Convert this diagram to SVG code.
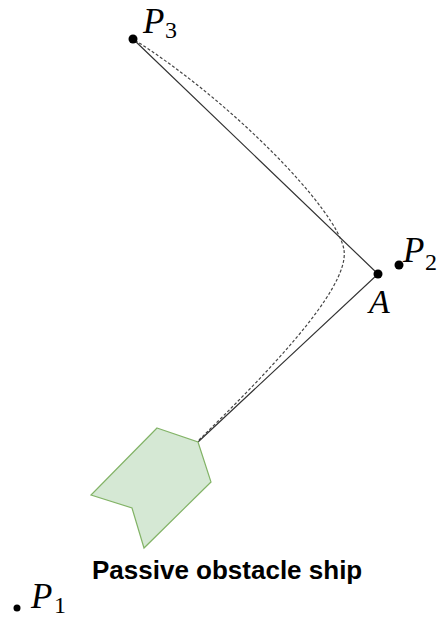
<svg xmlns="http://www.w3.org/2000/svg" width="440" height="617" viewBox="0 0 440 617">
<style>
.dot{fill:#000}
.math{font-family:"Liberation Serif","DejaVu Serif",serif;font-style:italic;fill:#000}
.sub{font-family:"Liberation Serif","DejaVu Serif",serif;font-style:normal;fill:#000}
.path{fill:none;stroke:#333;stroke-width:1.2}
.dash{fill:none;stroke:#444;stroke-width:1.2;stroke-dasharray:3 2}
.ship{fill:#d5e8d4;stroke:#82b366;stroke-width:1.2}
.lbl{font-family:"Liberation Sans",Arial,sans-serif;font-weight:bold;font-size:26px;fill:#000}
</style>
<rect width="440" height="617" fill="#fff"/>
<g id="connectors">
<polyline class="path" points="198,442 378,274 133,39"/>
<path class="dash" d="M199,440 C260,380 350,290 344,250 C338,210 230,100 133,39"/>
</g>
<g id="ship">
<polygon class="ship" points="157,428 198,442 211,482 144,548 132,508 91,495"/>
<text class="lbl" x="92" y="579">Passive obstacle ship</text>
</g>
<g id="P3">
<circle class="dot" cx="133" cy="39" r="4.5"/>
<text class="math" x="143" y="33" font-size="35">P</text>
<text class="sub" x="165" y="38" font-size="24">3</text>
</g>
<g id="A">
<circle class="dot" cx="378" cy="274" r="4.5"/>
<text class="math" x="369" y="313" font-size="34">A</text>
</g>
<g id="P2">
<circle class="dot" cx="399" cy="265" r="4.5"/>
<text class="math" x="403" y="262" font-size="35">P</text>
<text class="sub" x="425" y="270" font-size="24">2</text>
</g>
<g id="P1">
<circle class="dot" cx="17" cy="608" r="3.5"/>
<text class="math" x="31" y="608" font-size="35">P</text>
<text class="sub" x="54" y="613" font-size="24">1</text>
</g>
</svg>
